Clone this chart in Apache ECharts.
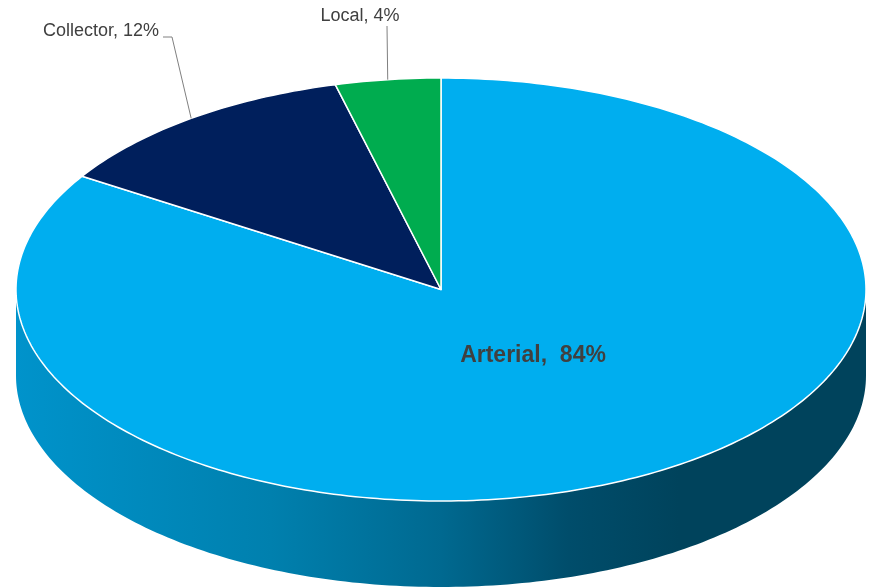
<!DOCTYPE html>
<html><head><meta charset="utf-8">
<script src="https://cdn.jsdelivr.net/npm/echarts@6/dist/echarts.min.js"></script>
<style>html,body{margin:0;padding:0;background:#fff}#c{width:869px;height:587px}</style>
</head><body><div id="c"></div>
<script>
// ---- data ----
const categories = ['Arterial', 'Collector', 'Local'];
const values = [84, 12, 4];
const percentLabels = ['84%', '12%', '4%'];
const colors = ['#00aeef', '#001f5c', '#00ac4f'];

// ---- layout ----
const CX = 441, CY = 289.5, RX = 425, RY = 211.5, DEPTH = 86;
const total = values.reduce((a, b) => a + b, 0);

function pt(deg, dy) {
  const r = deg * Math.PI / 180;
  return [CX + RX * Math.cos(r), CY - RY * Math.sin(r) + (dy || 0)];
}
function arcPts(a0, a1, dy) {
  const n = Math.max(2, Math.ceil(Math.abs(a1 - a0)));
  const out = [];
  for (let k = 0; k <= n; k++) out.push(pt(a0 + (a1 - a0) * k / n, dy));
  return out;
}
const wallGradient = {
  type: 'linear', x: 16, y: 0, x2: 866, y2: 0, global: true,
  colorStops: [
    { offset: 0, color: '#0093cb' },
    { offset: 0.3, color: '#0080ae' },
    { offset: 0.5, color: '#006990' },
    { offset: 0.65, color: '#004d6b' },
    { offset: 0.78, color: '#00435c' },
    { offset: 1, color: '#00435c' }
  ]
};
const labelLayout = [
  { x: 533, y: 356, font: 'bold 23px "Liberation Sans", Arial, sans-serif', sep: ',  ', line: null },
  { x: 101, y: 31, font: '18px "Liberation Sans", Arial, sans-serif', sep: ', ', line: [[172, 37], [163, 37]] },
  { x: 360, y: 16, font: '18px "Liberation Sans", Arial, sans-serif', sep: ', ', line: [[387, 26]] }
];

function renderItem(params, api) {
  const idx = params.dataIndex;
  const v = api.value(1);
  let cum = 0;
  for (let i = 0; i < idx; i++) cum += values[i];
  const a0 = 90 - 360 * cum / total;
  const a1 = 90 - 360 * (cum + v) / total;
  const lo = Math.min(a0, a1), hi = Math.max(a0, a1);
  const children = [];
  // front wall parts
  for (let k = -2; k <= 1; k++) {
    const l2 = Math.max(lo, -180 + 360 * k), h2 = Math.min(hi, 360 * k);
    if (l2 < h2) {
      const poly = arcPts(h2, l2, 0).concat(arcPts(l2, h2, DEPTH));
      children.push({
        type: 'polygon', z2: 0,
        shape: { points: poly },
        style: { fill: idx === 0 ? wallGradient : colors[idx], stroke: 'none' }
      });
    }
  }
  // top face
  const top = [[CX, CY]].concat(arcPts(a0, a1, 0));
  children.push({
    type: 'polygon', z2: 10,
    shape: { points: top },
    style: { fill: colors[idx], stroke: '#ffffff', lineWidth: 1.5, lineJoin: 'round' }
  });
  // label
  const L = labelLayout[idx];
  if (L.line) {
    const mid = (a0 + a1) / 2;
    children.push({
      type: 'polyline', z2: 20,
      shape: { points: [pt(mid, 0)].concat(L.line) },
      style: { stroke: '#808080', lineWidth: 1, fill: 'none' }
    });
  }
  children.push({
    type: 'text', z2: 30,
    style: {
      text: categories[idx] + L.sep + percentLabels[idx],
      x: L.x, y: L.y, font: L.font, fill: '#404040',
      align: 'center', verticalAlign: 'middle'
    }
  });
  return { type: 'group', children: children };
}

const chart = echarts.init(document.getElementById('c'), null, { renderer: 'canvas' });
chart.setOption({
  animation: false,
  backgroundColor: '#ffffff',
  series: [{
    type: 'custom',
    coordinateSystem: 'none',
    silent: true,
    renderItem: renderItem,
    data: values.map((v, i) => [i, v])
  }]
});
</script></body></html>
